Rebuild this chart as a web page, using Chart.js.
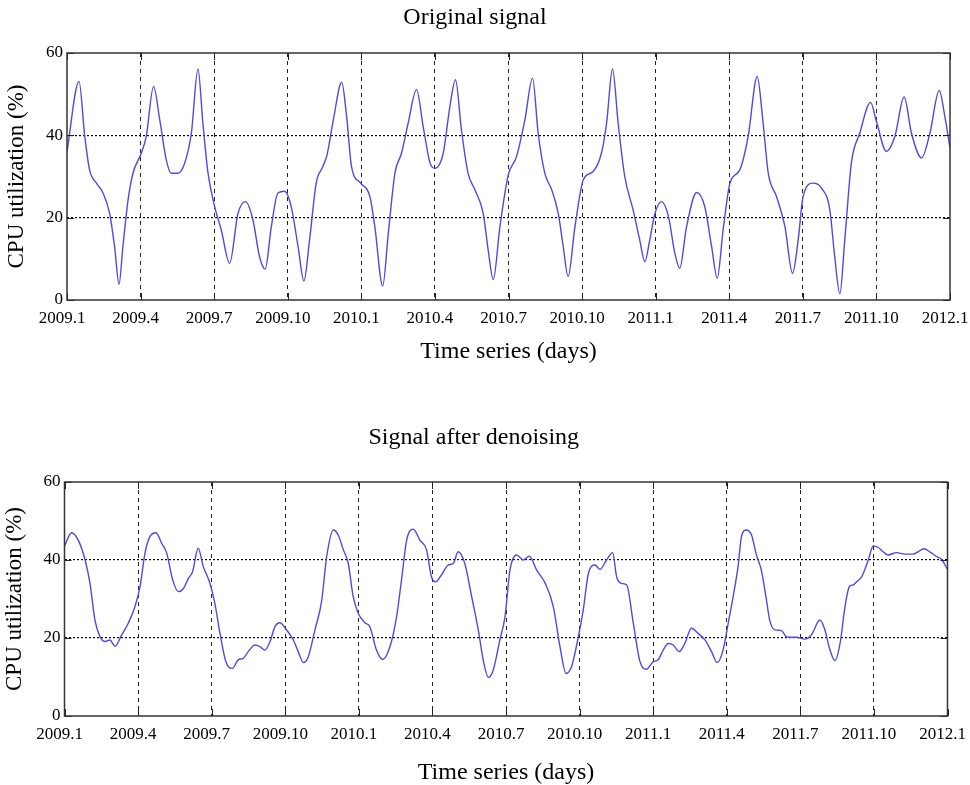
<!DOCTYPE html>
<html>
<head>
<meta charset="utf-8">
<script src="https://cdn.jsdelivr.net/npm/chart.js@4.4.1/dist/chart.umd.min.js"></script>
<style>
  html, body { margin: 0; padding: 0; background: #fff; overflow: hidden; }
  #wrap { position: relative; width: 970px; height: 785px; }
  canvas { position: absolute; left: 0; }
</style>
</head>
<body>
<div id="wrap">
  <canvas id="origChart" width="970" height="392" style="top:0"></canvas>
  <canvas id="denoChart" width="970" height="400" style="top:392px"></canvas>
</div>
<script>
// x position in months since 2009.1, tick every 3 months
const tickLabels = ['2009.1', '2009.4', '2009.7', '2009.10', '2010.1', '2010.4', '2010.7',
    '2010.10', '2011.1', '2011.4', '2011.7', '2011.10', '2012.1'];

const origMonths = [0, 0.49, 0.72, 0.92, 1.2, 1.47, 1.74, 1.94, 2.12, 2.28, 2.49, 2.69, 3.03, 3.23,
    3.53, 3.78, 4.05, 4.25, 4.52, 4.8, 5.07, 5.34, 5.54, 5.75, 6.02, 6.29, 6.63, 6.97, 7.28, 7.58,
    7.85, 8.08, 8.33, 8.6, 8.87, 9.14, 9.42, 9.66, 9.89, 10.16, 10.43, 10.6, 10.86, 11.2, 11.4, 11.6,
    11.97, 12.35, 12.55, 12.87, 13.1, 13.37, 13.64, 13.91, 14.25, 14.52, 14.8, 15.0, 15.34, 15.61,
    15.84, 16.08, 16.35, 16.63, 16.97, 17.17, 17.38, 17.65, 17.99, 18.33, 18.67, 18.98, 19.21, 19.48,
    19.76, 20.03, 20.23, 20.43, 20.71, 21.05, 21.45, 21.79, 22.0, 22.24, 22.47, 22.74, 23.08, 23.35,
    23.56, 23.76, 23.97, 24.24, 24.52, 24.78, 24.98, 25.26, 25.67, 26.0, 26.28, 26.51, 26.75, 27.03,
    27.43, 27.77, 28.14, 28.38, 28.59, 28.93, 29.27, 29.58, 29.81, 30.01, 30.42, 30.76, 31.1, 31.3,
    31.51, 31.71, 31.98, 32.32, 32.76, 33.0, 33.41, 33.75, 34.13, 34.43, 34.84, 35.18, 35.56, 35.79, 36];
const origValues = [36.1, 53.1, 40, 31.6, 28.4, 26, 21, 13, 3.8, 13, 24.3, 30.8, 35.7, 39.7,
    51.9, 43.8, 34, 30.8, 30.8, 33.3, 40.5, 56.1, 43, 30.8, 22.7, 17, 8.9, 21, 23.9, 19.5,
    10.5, 7.5, 17.8, 26, 26.4, 22.7, 13, 4.6, 14.6, 28.4, 32.4, 35.2, 43.8, 52.9, 44.6, 32.4,
    28.4, 25.1, 17.8, 3.4, 16.2, 30.8, 35.7, 43, 51.1, 42.2, 33.3, 32, 35.7, 47,
    53.5, 41.4, 30.8, 26.8, 21, 12.2, 5, 17.8, 30.4, 34.9, 43.8, 53.9, 40.5, 30.8,
    26.8, 21, 13, 5.7, 17.8, 29.2, 31.2, 35.7, 43, 56.1, 43, 30, 21.9, 14.6,
    9.3, 14.6, 21, 23.9, 20.3, 11.4, 7.7, 17.8, 26.1, 22.7, 13, 5.3, 17, 28.4,
    31.6, 39.7, 54.3, 43, 30.8, 25.1, 17.8, 6.5, 14.6, 25.1, 28.4, 27.2, 21.9, 10.5,
    1.5, 14.6, 33.3, 40.5, 48, 43.4, 36.1, 39.7, 49.3, 40.5, 34.5, 40.5, 50.9, 44.6, 36.9];

const denoMonths = [0, 0.29, 0.56, 0.84, 1.04, 1.24, 1.45, 1.65, 1.85, 2.06, 2.33, 2.6, 2.87, 3.08,
    3.28, 3.48, 3.73, 3.96, 4.17, 4.41, 4.64, 4.85, 5.05, 5.22, 5.45, 5.66, 5.93, 6.13, 6.34, 6.58,
    6.85, 7.08, 7.29, 7.49, 7.76, 7.97, 8.17, 8.38, 8.58, 8.78, 9.05, 9.33, 9.53, 9.74, 9.94, 10.21,
    10.48, 10.69, 10.96, 11.16, 11.37, 11.57, 11.77, 11.98, 12.25, 12.45, 12.72, 12.97, 13.27, 13.54,
    13.74, 13.95, 14.22, 14.49, 14.76, 14.96, 15.14, 15.37, 15.64, 15.85, 16.05, 16.32, 16.6, 16.87,
    17.07, 17.28, 17.48, 17.75, 17.96, 18.16, 18.43, 18.71, 18.95, 19.25, 19.6, 19.93, 20.2, 20.45,
    20.67, 20.95, 21.15, 21.36, 21.63, 21.83, 22.1, 22.35, 22.51, 22.71, 22.92, 23.19, 23.46, 23.72,
    24.0, 24.2, 24.41, 24.61, 24.82, 25.06, 25.29, 25.56, 25.83, 26.11, 26.38, 26.61, 26.85, 27.06,
    27.26, 27.46, 27.6, 27.8, 28.01, 28.21, 28.41, 28.62, 28.75, 28.96, 29.23, 29.44, 29.84, 30.18,
    30.45, 30.8, 31.0, 31.21, 31.41, 31.62, 31.82, 32.0, 32.15, 32.29, 32.5, 32.77, 32.97, 33.18,
    33.38, 33.58, 33.92, 34.26, 34.6, 34.8, 35.03, 35.28, 35.55, 35.75, 36];
const denoValues = [43.6, 47, 45.1, 40, 34, 24.6, 20.3, 19.1, 19.5, 17.9, 20.8, 23.8, 28, 33.2,
    41.7, 46, 47, 44.3, 41.7, 34.9, 31.9, 32.7, 35.3, 37, 43, 38.3, 34, 28.9, 21.2, 13.9,
    12.2, 14.4, 14.8, 16.5, 18.2, 17.8, 16.9, 19.1, 22.9, 23.9, 22.1, 19.5, 16.5, 13.7, 15.2, 22.1,
    29.3, 40.9, 47.7, 46.4, 42.6, 39.1, 30.6, 26.3, 23.9, 22.9, 16.9, 14.5, 17.8, 25.5,
    34.9, 45.1, 47.9, 45.1, 42.6, 35.7, 34.4, 36.2, 38.7, 39.1, 42.1, 39.1, 30.6, 22.1,
    14.4, 9.9, 11.8, 19.5, 25.5, 37.4, 41.3, 40, 41, 37.4, 34, 28, 17.8, 10.9,
    12.6, 20.3, 27.2, 36.6, 38.7, 37.6, 40, 41.9, 35.7, 34, 33.6, 23.8, 14, 12,
    13.9, 14.4, 16.9, 18.6, 18.2, 16.5, 18.6, 22.5, 21.2, 19.5, 16.5, 13.7, 16.9, 23.8,
    30.6, 38.3, 46, 47.7, 46.4, 41.3, 37.4, 29.7, 24.6, 22.1, 21.9, 20.3, 20.2, 19.7,
    20.8, 24.6, 22.1, 16.9, 14.2, 18.6, 28, 33.2, 33.6, 34.4, 35.7, 40, 43.6, 43.2,
    42.1, 41.3, 41.9, 41.5, 41.5, 42.1, 42.9, 42.1, 40.9, 40.2, 37.6];

const serif = "'Liberation Serif', 'Times New Roman', serif";

// box around the plot plus short inward tick marks, MATLAB style
const framePlugin = {
    id: 'frame',
    afterDatasetsDraw(chart) {
        const { ctx, chartArea: a, scales } = chart;
        ctx.save();
        ctx.strokeStyle = '#222';
        ctx.lineWidth = 1;
        ctx.setLineDash([]);
        scales.x.ticks.forEach(t => {
            const px = Math.round(scales.x.getPixelForValue(t.value)) + 0.5;
            ctx.beginPath();
            ctx.moveTo(px, a.bottom); ctx.lineTo(px, a.bottom - 7);
            ctx.moveTo(px, a.top); ctx.lineTo(px, a.top + 7);
            ctx.stroke();
        });
        scales.y.ticks.forEach(t => {
            const py = Math.round(scales.y.getPixelForValue(t.value)) + 0.5;
            ctx.beginPath();
            ctx.moveTo(a.left, py); ctx.lineTo(a.left + 7, py);
            ctx.moveTo(a.right, py); ctx.lineTo(a.right - 7, py);
            ctx.stroke();
        });
        ctx.strokeStyle = '#333';
        ctx.lineWidth = 1.5;
        ctx.strokeRect(a.left, a.top, a.right - a.left, a.bottom - a.top);
        ctx.restore();
    }
};

function makeChart(id, title, months, values, g) {
    new Chart(document.getElementById(id), {
        type: 'line',
        data: {
            datasets: [{
                data: months.map((m, i) => ({ x: m, y: values[i] })),
                borderColor: '#4b4be2',
                borderWidth: 1.4,
                pointRadius: 0,
                fill: false,
                cubicInterpolationMode: 'monotone'
            }]
        },
        options: {
            responsive: false,
            animation: false,
            layout: { padding: { left: 0, right: g.right, top: 0, bottom: 0 } },
            plugins: {
                legend: { display: false },
                tooltip: { enabled: false },
                title: {
                    display: true,
                    text: title,
                    color: '#000',
                    font: { family: serif, size: 24, weight: 'normal' },
                    padding: { top: g.titleTop, bottom: g.titleBottom }
                }
            },
            scales: {
                x: {
                    type: 'linear',
                    min: 0,
                    max: 36,
                    afterFit(s) { s.height = g.xHeight; s.paddingLeft = 0; s.paddingRight = 0; },
                    afterBuildTicks(s) { s.ticks = tickLabels.map((_, i) => ({ value: i * 3 })); },
                    ticks: {
                        autoSkip: false,
                        maxRotation: 0,
                        padding: 8,
                        labelOffset: -5,
                        color: '#000',
                        font: { family: serif, size: 17 },
                        callback: v => tickLabels[Math.round(v / 3)]
                    },
                    grid: {
                        drawTicks: false,
                        color: c => (c.tick.value === 0 || c.tick.value === 36) ? 'rgba(0,0,0,0)' : '#222',
                        lineWidth: 1
                    },
                    border: { display: false, dash: [4, 4] },
                    title: {
                        display: true,
                        text: 'Time series (days)',
                        color: '#000',
                        font: { family: serif, size: 24 },
                        padding: { top: 0, bottom: g.xTitleBottom }
                    }
                },
                y: {
                    min: 0,
                    max: 60,
                    afterFit(s) { s.width = g.yWidth; },
                    ticks: {
                        stepSize: 20,
                        padding: 4,
                        color: '#000',
                        font: { family: serif, size: 17 }
                    },
                    grid: {
                        drawTicks: false,
                        color: c => (c.tick.value === 0 || c.tick.value === 60) ? 'rgba(0,0,0,0)' : '#000',
                        lineWidth: 1.2
                    },
                    border: { display: false, dash: [2, 2] },
                    title: {
                        display: true,
                        text: 'CPU utilization (%)',
                        color: '#000',
                        font: { family: serif, size: 23 },
                        padding: { top: g.yTitleTop, bottom: 0 }
                    }
                }
            }
        },
        plugins: [framePlugin]
    });
}

makeChart('origChart', 'Original signal', origMonths, origValues,
    { right: 20, titleTop: 3.6, titleBottom: 20.6, xHeight: 92, xTitleBottom: 25.6, yWidth: 67, yTitleTop: 3 });
makeChart('denoChart', 'Signal after denoising', denoMonths, denoValues,
    { right: 22.5, titleTop: 31.6, titleBottom: 29.6, xHeight: 76, xTitleBottom: 4.6, yWidth: 64.5, yTitleTop: 1.5 });
</script>
</body>
</html>
